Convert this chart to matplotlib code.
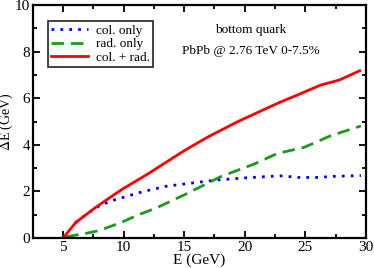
import numpy as np
import matplotlib.pyplot as plt
from matplotlib.ticker import MultipleLocator

# energy loss of a bottom quark
e_col = [6.0, 7.0, 8.0, 9.0, 10.0, 11.5, 13.5, 15.0, 17.7, 20.0, 22.9, 24.5, 26.0, 27.5, 29.6]
de_col = [0.65, 1.05, 1.38, 1.6, 1.75, 1.98, 2.22, 2.32, 2.49, 2.58, 2.67, 2.6, 2.6, 2.65, 2.68]

e_rad = [5.25, 6.0, 6.9, 8.0, 9.9, 11.0, 12.7, 15.0, 18.0, 20.8, 22.7, 24.9, 27.1, 29.6]
de_rad = [0.05, 0.12, 0.2, 0.32, 0.69, 0.95, 1.29, 1.85, 2.63, 3.18, 3.63, 3.89, 4.39, 4.81]

e_tot = [5.0, 6.05, 7.7, 9.1, 9.9, 12.0, 15.0, 17.0, 19.4, 22.7, 24.35, 26.3, 27.8, 29.5]
de_tot = [0.0, 0.67, 1.32, 1.82, 2.1, 2.75, 3.75, 4.35, 4.99, 5.78, 6.14, 6.57, 6.78, 7.18]

plt.rcParams['font.family'] = ['Liberation Serif', 'DejaVu Serif']
plt.rcParams['mathtext.fontset'] = 'stix'

fig = plt.figure(figsize=(3.74, 2.68), dpi=100)
ax = fig.add_axes([0.088, 0.112, 0.890, 0.869])

ax.plot(e_col, de_col, color='blue', linestyle=(0, (1, 2.2)), linewidth=2, label='col. only')
ax.plot(e_rad, de_rad, color='#1a9a1a', linestyle=(0, (4.5, 2.5)), linewidth=2, label='rad. only')
ax.plot(e_tot, de_tot, color='red', linewidth=2, label='col. + rad.')

ax.set_xlim(2.5, 30)
ax.set_ylim(0, 10)
ax.xaxis.set_major_locator(MultipleLocator(5))
ax.xaxis.set_minor_locator(MultipleLocator(2.5))
ax.yaxis.set_major_locator(MultipleLocator(2))
ax.yaxis.set_minor_locator(MultipleLocator(1))
ax.tick_params(which='both', direction='in', top=True, right=True, width=1.3, labelsize=11, pad=2)
ax.tick_params(which='major', length=5)
ax.tick_params(which='minor', length=3)
for s in ax.spines.values():
    s.set_linewidth(1.6)

ax.set_xlabel('E (GeV)', fontsize=11)
ax.set_ylabel(r'$\Delta$E (GeV)', fontsize=10)
ax.xaxis.set_label_coords(0.5, -0.068)
ax.yaxis.set_label_coords(-0.055, 0.5)

ax.text(0.655, 0.88, 'bottom quark', transform=ax.transAxes, ha='center', fontsize=9.5)
ax.text(0.655, 0.79, 'PbPb @ 2.76 TeV 0-7.5%', transform=ax.transAxes, ha='center', fontsize=9.5)

leg = ax.legend(loc='upper left', bbox_to_anchor=(0.045, 0.93), fontsize=9.5, frameon=True,
                fancybox=False, edgecolor='black', handlelength=2.8, handletextpad=0.6,
                borderpad=0.25, labelspacing=0.1, borderaxespad=0)
leg.get_frame().set_linewidth(1.3)

fig.savefig('out.png', dpi=100)
